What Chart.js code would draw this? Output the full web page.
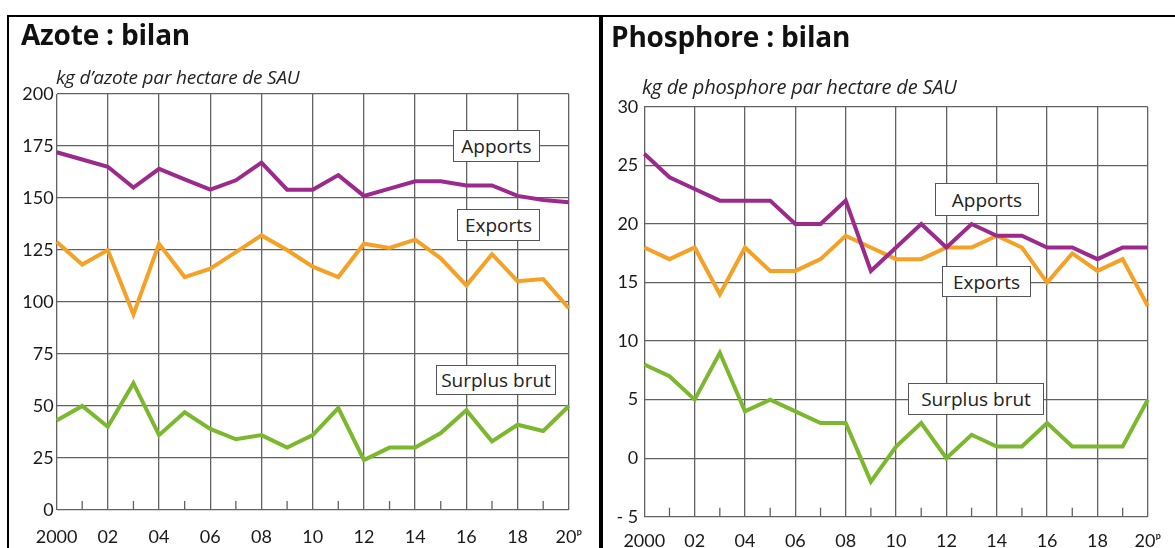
<!DOCTYPE html>
<html><head><meta charset="utf-8">
<script src="https://cdn.jsdelivr.net/npm/chart.js@4.4.1/dist/chart.umd.min.js"></script>
<style>
html,body{margin:0;padding:0;background:#fff;}
body{width:1175px;height:548px;position:relative;overflow:hidden;font-family:"Open Sans",Lato,sans-serif;color:#111;}
.frame{position:absolute;background:#000;}
canvas{position:absolute;}
.title{position:absolute;font-weight:700;font-size:28px;white-space:nowrap;line-height:1;letter-spacing:-0.2px;}
.sub{position:absolute;font-style:italic;font-size:19px;white-space:nowrap;line-height:1;color:#222;letter-spacing:-0.2px;}
.lbl{position:absolute;box-sizing:border-box;border:1px solid #555;background:#fff;font-size:19px;display:flex;align-items:center;justify-content:center;white-space:nowrap;color:#222;}
</style>
</head><body>
<div class="frame" style="left:7px;top:15px;width:1168px;height:2px"></div>
<div class="frame" style="left:7px;top:15px;width:2px;height:533px"></div>
<div class="frame" style="left:599px;top:15px;width:4px;height:533px"></div>

<div id="wrapL" style="position:absolute;left:0;top:0;width:598px;height:548px"><canvas id="cL"></canvas></div>
<div id="wrapR" style="position:absolute;left:603px;top:0;width:572px;height:548px"><canvas id="cR"></canvas></div>

<div class="title" style="left:21px;top:20px">Azote : bilan</div>
<div class="sub" style="left:56px;top:68px">kg d’azote par hectare de SAU</div>
<div class="title" style="left:611px;top:22px">Phosphore : bilan</div>
<div class="sub" style="left:642px;top:77px;font-size:20px">kg de phosphore par hectare de SAU</div>

<div class="lbl" style="left:453px;top:130px;width:87px;height:32px">Apports</div>
<div class="lbl" style="left:457px;top:209px;width:83px;height:32px">Exports</div>
<div class="lbl" style="left:436px;top:365px;width:120px;height:30px">Surplus brut</div>
<div class="lbl" style="left:935px;top:183px;width:104px;height:33px">Apports</div>
<div class="lbl" style="left:942px;top:266px;width:89px;height:31px">Exports</div>
<div class="lbl" style="left:908px;top:383px;width:136px;height:32px">Surplus brut</div>

<script>
// ---- data ----
const years = ["2000","2001","2002","2003","2004","2005","2006","2007","2008","2009","2010","2011","2012","2013","2014","2015","2016","2017","2018","2019","2020"];
const xTickLabels = ["2000","","02","","04","","06","","08","","10","","12","","14","","16","","18","","20ᵖ"];
const seriesNames = ["Apports","Exports","Surplus brut"];

const azoteApports = [172,168.5,165,155,164,159,154,158.5,167,154,154,161,151,154.5,158,158,156,156,151,149,148];
const azoteExports = [129,118,125,94,128,112,116,124,132,125,117,112,128,126,130,121,108,123,110,111,97];
const azoteSurplus = [43,50,40,61,36,47,39,34,36,30,36,49,24,30,30,37,48,33,41,38,50];
const azoteYTicks = [0,25,50,75,100,125,150,175,200];

const phosApports = [26,24,23,22,22,22,20,20,22,16,18,20,18,20,19,19,18,18,17,18,18];
const phosExports = [18,17,18,14,18,16,16,17,19,18,17,17,18,18,19,18,15,17.5,16,17,13];
const phosSurplus = [8,7,5,9,4,5,4,3,3,-2,1,3,0,2,1,1,3,1,1,1,5];
const phosYTicks = [-5,0,5,10,15,20,25,30];
const phosYTickLabels = ["- 5","0","5","10","15","20","25","30"];

// ---- styling ----
const colors = ["#9c2a8c","#f5a126","#7cb82e"];
const gridColor = "#626262";
const FONT = "Lato, 'Open Sans', sans-serif";

const minorTicks = {
  id: "minorTicks",
  beforeDatasetsDraw(chart) {
    const xs = chart.scales.x, area = chart.chartArea, ctx = chart.ctx;
    ctx.save();
    ctx.strokeStyle = gridColor; ctx.lineWidth = 1.3;
    years.forEach((y, i) => {
      if (i % 2 === 1) {
        const px = xs.getPixelForValue(i);
        ctx.beginPath(); ctx.moveTo(px, area.bottom); ctx.lineTo(px, area.bottom - 9); ctx.stroke();
      }
    });
    ctx.restore();
  }
};

function makeChart(id, data, ticks, tickLabels, geo) {
  const ds = data.map((d, i) => ({
    label: seriesNames[i], data: d, borderColor: colors[i], backgroundColor: colors[i],
    borderWidth: 4, pointRadius: 0, tension: 0, fill: false
  }));
  return new Chart(document.getElementById(id), {
    type: "line",
    data: { labels: years, datasets: ds },
    plugins: [minorTicks],
    options: {
      responsive: true, maintainAspectRatio: false, animation: false,
      layout: { padding: { left: 0, top: geo.top, right: geo.right, bottom: 0 } },
      plugins: { legend: { display: false }, tooltip: { enabled: false }, title: { display: false } },
      scales: {
        x: {
          type: "category", offset: false,
          border: { display: false },
          grid: { color: (c) => (c.index % 2 === 0 ? gridColor : "rgba(0,0,0,0)"), lineWidth: 1.3, drawTicks: false },
          ticks: { autoSkip: false, maxRotation: 0, padding: geo.xPad, color: "#1a1a1a",
                   font: { family: FONT, size: 18 }, callback: (v, i) => xTickLabels[i] },
          afterFit: (s) => { s.height = geo.xH; }
        },
        y: {
          min: ticks[0], max: ticks[ticks.length - 1],
          border: { display: false },
          grid: { color: gridColor, lineWidth: 1.3, drawTicks: false },
          afterBuildTicks: (s) => { s.ticks = ticks.map(v => ({ value: v })); },
          ticks: { padding: geo.yPad, color: "#1a1a1a", font: { family: FONT, size: 18 },
                   callback: (v) => { const k = ticks.indexOf(v); return k >= 0 ? tickLabels[k] : ""; } },
          afterFit: (s) => { s.width = geo.yW; }
        }
      }
    }
  });
}

makeChart("cL", [azoteApports, azoteExports, azoteSurplus], azoteYTicks, azoteYTicks.map(String),
  { top: 94, right: 12, xH: 38, yW: 56.6, xPad: 16, yPad: 3 });
makeChart("cR", [phosApports, phosExports, phosSurplus], phosYTicks, phosYTickLabels,
  { top: 107, right: 16.5, xH: 31.3, yW: 41.3, xPad: 14, yPad: 6 });
</script>
</body></html>
